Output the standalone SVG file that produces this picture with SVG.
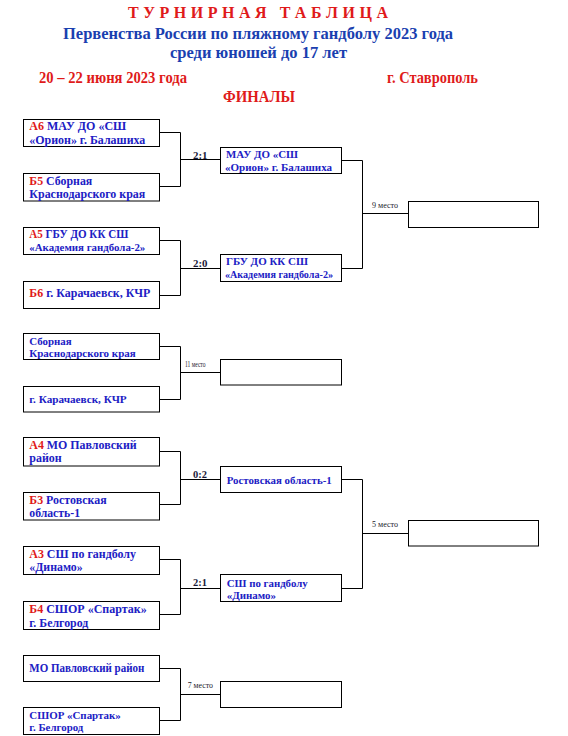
<svg xmlns="http://www.w3.org/2000/svg" width="568" height="736" viewBox="0 0 568 736">
<style>
text{font-family:"Liberation Serif","Times New Roman",serif;font-weight:bold}
.hr{fill:#e01a1a;font-size:16px}
.hb{fill:#1a3fb0;font-size:16px}
.t{fill:#2020c4;font-size:12px}
.s{fill:#2020c4;font-size:11px}
.r{fill:#e01a1a}
.sc{fill:#1a1a3a;font-size:10px}
.pl{fill:#1a1a2a;font-size:8px;font-weight:normal}
.box{fill:#fff;stroke:#000;stroke-width:1}
.ln{fill:none;stroke:#000;stroke-width:1}
</style>
<rect width="568" height="736" fill="#fff"/>
<g id="header">
<text class="hr" x="128" y="17.5" textLength="260" lengthAdjust="spacing" xml:space="preserve">Т У Р Н И Р Н А Я   Т А Б Л И Ц А</text>
<text class="hb" x="63" y="39" textLength="390" lengthAdjust="spacingAndGlyphs">Первенства России по пляжному гандболу 2023 года</text>
<text class="hb" x="170" y="58" textLength="177" lengthAdjust="spacingAndGlyphs">среди юношей до 17 лет</text>
<text class="hr" x="39" y="83" textLength="148" lengthAdjust="spacingAndGlyphs">20 – 22 июня 2023 года</text>
<text class="hr" x="387" y="83" textLength="91" lengthAdjust="spacingAndGlyphs">г. Ставрополь</text>
<text class="hr" x="223" y="102" textLength="72" lengthAdjust="spacingAndGlyphs">ФИНАЛЫ</text>
</g>
<g id="connectors">
<path class="ln" d="M159.5 132.5H180.5V186.5H159.5M180.5 159.5H220.5"/>
<path class="ln" d="M159.5 240.5H180.5V295.5H159.5M180.5 268.5H220.5"/>
<path class="ln" d="M341.5 160.5H362.5V268.5H341.5M362.5 213.5H408.5"/>
<path class="ln" d="M159.5 346.5H180.5V399.5H159.5M180.5 372.5H220.5"/>
<path class="ln" d="M159.5 451.5H180.5V504.5H159.5M180.5 479.5H220.5"/>
<path class="ln" d="M159.5 559.5H180.5V614.5H159.5M180.5 588.5H220.5"/>
<path class="ln" d="M341.5 479.5H362.5V588.5H341.5M362.5 533.5H408.5"/>
<path class="ln" d="M159.5 668.5H180.5V720.5H159.5M180.5 694.5H220.5"/>
<text class="sc" x="193" y="158.5" textLength="14.5" lengthAdjust="spacingAndGlyphs">2:1</text>
<text class="sc" x="193" y="266.5" textLength="14.5" lengthAdjust="spacingAndGlyphs">2:0</text>
<text class="sc" x="193" y="477.5" textLength="14" lengthAdjust="spacingAndGlyphs">0:2</text>
<text class="sc" x="193" y="586" textLength="14" lengthAdjust="spacingAndGlyphs">2:1</text>
<text class="pl" x="372" y="208.3" textLength="26" lengthAdjust="spacingAndGlyphs">9 место</text>
<text class="pl" x="185" y="366.7" textLength="20.5" lengthAdjust="spacingAndGlyphs">11 место</text>
<text class="pl" x="372" y="527.3" textLength="26" lengthAdjust="spacingAndGlyphs">5 место</text>
<text class="pl" x="187.7" y="688.3" textLength="25.3" lengthAdjust="spacingAndGlyphs">7 место</text>
</g>
<g id="n-a6">
<rect class="box" x="23.5" y="119.5" width="136" height="27"/>
<text class="t" x="29.3" y="130" textLength="97" lengthAdjust="spacingAndGlyphs"><tspan class="r">А6</tspan> МАУ ДО «СШ</text>
<text class="t" x="29.3" y="144" textLength="116" lengthAdjust="spacingAndGlyphs">«Орион» г. Балашиха</text>
</g>
<g id="n-b5">
<rect class="box" x="23.5" y="173.5" width="136" height="27.5"/>
<text class="t" x="29.3" y="185" textLength="63" lengthAdjust="spacingAndGlyphs"><tspan class="r">Б5</tspan> Сборная</text>
<text class="t" x="29.3" y="198.3" textLength="116" lengthAdjust="spacingAndGlyphs">Краснодарского края</text>
</g>
<g id="n-a5">
<rect class="box" x="23.5" y="227.5" width="136" height="27"/>
<text class="t" x="29.3" y="238.3" textLength="99" lengthAdjust="spacingAndGlyphs"><tspan class="r">А5</tspan> ГБУ ДО КК СШ</text>
<text class="s" x="29.3" y="251" textLength="116" lengthAdjust="spacingAndGlyphs">«Академия гандбола-2»</text>
</g>
<g id="n-b6">
<rect class="box" x="23.5" y="281.5" width="136" height="27"/>
<text class="t" x="29.3" y="297.3" textLength="121" lengthAdjust="spacingAndGlyphs"><tspan class="r">Б6</tspan> г. Карачаевск, КЧР</text>
</g>
<g id="n-w1">
<rect class="box" x="220.5" y="147.5" width="121" height="26"/>
<text class="s" x="226" y="158" textLength="72" lengthAdjust="spacingAndGlyphs">МАУ ДО «СШ</text>
<text class="s" x="225" y="170.8" textLength="107" lengthAdjust="spacingAndGlyphs">«Орион» г. Балашиха</text>
</g>
<g id="n-w2">
<rect class="box" x="220.5" y="254.5" width="121" height="27"/>
<text class="s" x="226" y="265.3" textLength="82" lengthAdjust="spacingAndGlyphs">ГБУ ДО КК СШ</text>
<text class="s" x="225" y="278.3" textLength="108" lengthAdjust="spacingAndGlyphs">«Академия гандбола-2»</text>
</g>
<g id="n-p9">
<rect class="box" x="408.5" y="201.5" width="130" height="26"/>
</g>
<g id="n-l1">
<rect class="box" x="23.5" y="333.5" width="136" height="26"/>
<text class="s" x="29.3" y="345" textLength="42.4" lengthAdjust="spacingAndGlyphs">Сборная</text>
<text class="s" x="29.3" y="357.3" textLength="106.4" lengthAdjust="spacingAndGlyphs">Краснодарского края</text>
</g>
<g id="n-l2">
<rect class="box" x="23.5" y="386.5" width="136" height="25.5"/>
<text class="s" x="29.3" y="402.7" textLength="97.4" lengthAdjust="spacingAndGlyphs">г. Карачаевск, КЧР</text>
</g>
<g id="n-p11">
<rect class="box" x="220.5" y="359.5" width="121" height="25.5"/>
</g>
<g id="n-a4">
<rect class="box" x="23.5" y="437.5" width="136" height="28.5"/>
<text class="t" x="29.3" y="449.3" textLength="107.4" lengthAdjust="spacingAndGlyphs"><tspan class="r">А4</tspan> МО Павловский</text>
<text class="t" x="29.3" y="462.3" textLength="32.4" lengthAdjust="spacingAndGlyphs">район</text>
</g>
<g id="n-b3">
<rect class="box" x="23.5" y="492.5" width="136" height="27.5"/>
<text class="t" x="29.3" y="504" textLength="77.4" lengthAdjust="spacingAndGlyphs"><tspan class="r">Б3</tspan> Ростовская</text>
<text class="t" x="29.3" y="517.3" textLength="50.7" lengthAdjust="spacingAndGlyphs">область-1</text>
</g>
<g id="n-a3">
<rect class="box" x="23.5" y="546.5" width="136" height="28"/>
<text class="t" x="29.3" y="558.3" textLength="106.7" lengthAdjust="spacingAndGlyphs"><tspan class="r">А3</tspan> СШ по гандболу</text>
<text class="t" x="29.3" y="571" textLength="53.4" lengthAdjust="spacingAndGlyphs">«Динамо»</text>
</g>
<g id="n-b4">
<rect class="box" x="23.5" y="601.5" width="136" height="28"/>
<text class="t" x="29.3" y="613.3" textLength="117.4" lengthAdjust="spacingAndGlyphs"><tspan class="r">Б4</tspan> СШОР «Спартак»</text>
<text class="t" x="29.3" y="626.7" textLength="59" lengthAdjust="spacingAndGlyphs">г. Белгород</text>
</g>
<g id="n-w3">
<rect class="box" x="220.5" y="466.5" width="121" height="26"/>
<text class="s" x="226.7" y="484" textLength="105" lengthAdjust="spacingAndGlyphs">Ростовская область-1</text>
</g>
<g id="n-w4">
<rect class="box" x="220.5" y="574.5" width="121" height="27"/>
<text class="s" x="226.7" y="586.7" textLength="81" lengthAdjust="spacingAndGlyphs">СШ по гандболу</text>
<text class="s" x="226.7" y="598.5" textLength="49.3" lengthAdjust="spacingAndGlyphs">«Динамо»</text>
</g>
<g id="n-p5">
<rect class="box" x="408.5" y="520.5" width="130" height="25.5"/>
</g>
<g id="n-l3">
<rect class="box" x="23.5" y="655.5" width="136" height="26"/>
<text class="t" x="29.3" y="672.3" textLength="115" lengthAdjust="spacingAndGlyphs">МО Павловский район</text>
</g>
<g id="n-l4">
<rect class="box" x="23.5" y="707.5" width="136" height="27"/>
<text class="s" x="29.3" y="719" textLength="91.4" lengthAdjust="spacingAndGlyphs">СШОР «Спартак»</text>
<text class="s" x="29.3" y="730.7" textLength="54" lengthAdjust="spacingAndGlyphs">г. Белгород</text>
</g>
<g id="n-p7">
<rect class="box" x="220.5" y="681.5" width="121" height="26"/>
</g>
</svg>
